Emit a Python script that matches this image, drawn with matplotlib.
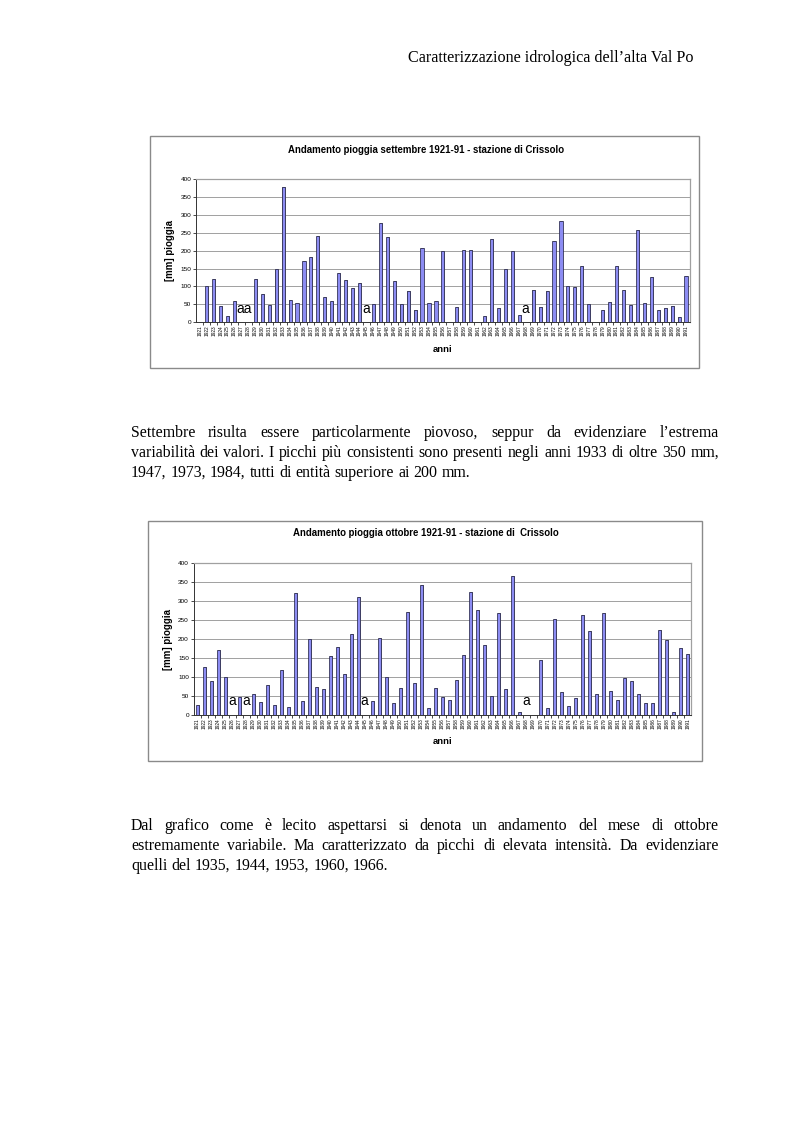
import numpy as np
import matplotlib.pyplot as plt
from matplotlib.patches import Rectangle

# ---------------- DATA ----------------
YEARS = list(range(1921, 1992))

# September rainfall [mm], 0 = missing year
SETTEMBRE = [0, 102, 120, 46, 18, 59, 0, 0, 120, 79,
             47, 150, 378, 62, 53, 172, 182, 241, 70, 59,
             137, 117, 96, 111, 0, 51, 278, 239, 114, 52,
             88, 34, 207, 55, 59, 200, 0, 43, 202, 202,
             0, 17, 232, 41, 148, 199, 21, 0, 91, 42,
             88, 227, 284, 100, 98, 157, 52, 0, 33, 58,
             158, 89, 48, 257, 55, 127, 33, 40, 46, 15,
             130]

# October rainfall [mm]
OTTOBRE = [28, 128, 91, 171, 100, 0, 48, 0, 55, 34,
           79, 26, 119, 22, 320, 38, 200, 74, 68, 156,
           180, 109, 214, 311, 0, 37, 202, 101, 32, 73,
           270, 84, 341, 20, 72, 48, 40, 93, 158, 324,
           276, 185, 51, 269, 68, 367, 8, 0, 0, 145,
           20, 254, 60, 25, 45, 263, 221, 56, 269, 65,
           39, 98, 89, 55, 31, 32, 224, 197, 8, 176,
           161]

# "a" marks for missing years (year, text)
MARK_SET = [(1927.4, "aa"), (1944.9, "a"), (1967.9, "a")]
MARK_OTT = [(1925.95, "a"), (1927.95, "a"), (1944.9, "a"), (1967.9, "a")]

TITLE_SET = "Andamento pioggia settembre 1921-91 - stazione di Crissolo"
TITLE_OTT = "Andamento pioggia ottobre 1921-91 - stazione di  Crissolo"

HEADER = "Caratterizzazione idrologica dell\u2019alta Val Po"
PAR1 = ["Settembre risulta essere particolarmente piovoso, seppur da evidenziare l\u2019estrema",
        "variabilit\u00e0 dei valori. I picchi pi\u00f9 consistenti sono presenti negli anni 1933 di oltre 350 mm,",
        "1947, 1973, 1984, tutti di entit\u00e0 superiore ai 200 mm."]
PAR2 = ["Dal grafico come \u00e8 lecito aspettarsi si denota un andamento del mese di ottobre",
        "estremamente variabile. Ma caratterizzato da picchi di elevata intensit\u00e0. Da evidenziare",
        "quelli del 1935, 1944, 1953, 1960, 1966."]
# --------------------------------------

W, H = 793, 1123
fig = plt.figure(figsize=(W / 100, H / 100), dpi=100)
fig.patch.set_facecolor("white")
renderer = fig.canvas.get_renderer()

SANS = "Liberation Sans"
SERIF = "Liberation Serif"


def fx(px):
    return px / W


def fy(py):
    return 1 - py / H


def fit_size(text, width, family, size=10, **kw):
    # font size so that text is 'width' pixels wide
    t = fig.text(0, 0, text, fontsize=size, family=family, **kw)
    w = t.get_window_extent(renderer).width
    t.remove()
    return size * width / w


def chart(box, area, values, marks, title, title_y, ylab_x, anni_y):
    # outer frame
    bx0, by0, bx1, by1 = box
    fig.patches.append(Rectangle((fx(bx0), fy(by1)), fx(bx1 - bx0), (by1 - by0) / H,
                                 transform=fig.transFigure, fill=False,
                                 edgecolor="#8a8a8a", lw=1.0))
    x0, y0, x1, y1 = area
    ax = fig.add_axes([fx(x0), fy(y1), fx(x1 - x0), (y1 - y0) / H])
    idx = np.arange(len(YEARS))
    ax.bar(idx + 0.12, values, width=0.45, color="#9a9a9a", edgecolor="none", zorder=2)
    ax.bar(idx, values, width=0.45, color="#8c8cf2", edgecolor="#1a1a3a", lw=0.5, zorder=3)
    ax.set_xlim(-0.5, len(YEARS) - 0.5)
    ax.set_ylim(0, 400)
    ax.set_yticks(np.arange(0, 401, 50))
    ax.yaxis.grid(True, color="#a0a0a0", lw=0.7)
    ax.set_axisbelow(True)
    ax.tick_params(axis="y", labelsize=4.6, length=2, width=0.5, pad=1.5)
    for lab in ax.get_yticklabels():
        lab.set_family(SANS)
    ax.set_xticks(idx)
    ax.set_xticklabels([str(y) for y in YEARS], rotation=90, fontsize=3.4, family=SANS)
    ax.tick_params(axis="x", length=0, pad=2)
    ax.set_xticks(idx[:-1] + 0.5, minor=True)
    ax.tick_params(axis="x", which="minor", length=2, width=0.5)
    for s in ["left", "bottom"]:
        ax.spines[s].set_color("#333333")
        ax.spines[s].set_linewidth(0.7)
    for s in ["top", "right"]:
        ax.spines[s].set_color("#a0a0a0")
        ax.spines[s].set_linewidth(0.9)
    for yr, txt in marks:
        ax.text(yr - YEARS[0], 27, txt, ha="center", va="baseline",
                fontsize=10, family=SANS, zorder=4)
    fig.text(fx(426), fy(title_y), title, ha="center", va="center",
             fontsize=6.9, fontweight="bold", family=SANS)
    fig.text(fx(ylab_x), fy((y0 + y1) / 2), "[mm] pioggia", rotation=90, ha="center",
             va="center", fontsize=7.0, fontweight="bold", family=SANS)
    fig.text(fx(443), fy(anni_y), "anni", ha="center", va="center",
             fontsize=6.8, fontweight="bold", family=SANS)


chart((150, 136, 699, 368), (196.3, 179, 689.5, 322.3), SETTEMBRE, MARK_SET,
      TITLE_SET, 150, 170, 349)
chart((148, 521, 702, 761), (193.8, 563, 691.2, 715.3), OTTOBRE, MARK_OTT,
      TITLE_OTT, 533, 168, 742)

# -------- BODY TEXT (justified) --------
SIZE = fit_size(PAR1[1], 584, SERIF)


def justified(lines, baselines, left=131, right=719):
    space = fig.text(0, 0, "a a", fontsize=SIZE, family=SERIF)
    nospace = fig.text(0, 0, "aa", fontsize=SIZE, family=SERIF)
    sp = space.get_window_extent(renderer).width - nospace.get_window_extent(renderer).width
    space.remove()
    nospace.remove()
    for i, (line, yb) in enumerate(zip(lines, baselines)):
        words = line.split()
        texts = [fig.text(0, 0, w, fontsize=SIZE, family=SERIF, va="baseline")
                 for w in words]
        widths = [t.get_window_extent(renderer).width for t in texts]
        if i == len(lines) - 1:
            gap = sp
        else:
            gap = (right - left - sum(widths)) / (len(words) - 1)
        x = left
        for t, w in zip(texts, widths):
            t.set_position((fx(x), fy(yb)))
            x += w + gap


hsize = fit_size(HEADER, 286, SERIF)
fig.text(fx(694), fy(62), HEADER, ha="right", va="baseline", fontsize=hsize, family=SERIF)
justified(PAR1, [437, 457, 477])
justified(PAR2, [830, 850, 870])

fig.savefig("out.png", dpi=100)
